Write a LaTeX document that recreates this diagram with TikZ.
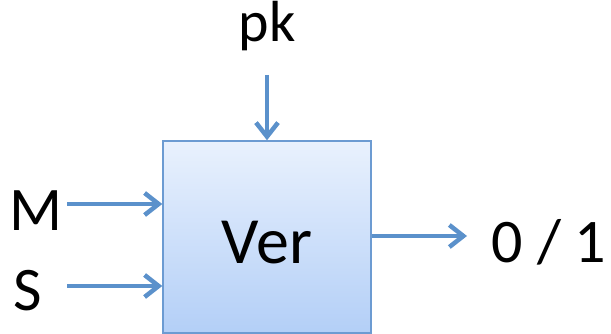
\documentclass[tikz,border=0pt]{standalone}
\usepackage{fontspec}
\setmainfont{Carlito}
\usetikzlibrary{arrows.meta}
\definecolor{arrowblue}{HTML}{5B91CB}
\definecolor{boxedge}{HTML}{6C9BD2}
\definecolor{boxtop}{HTML}{E9F1FD}
\definecolor{boxbot}{HTML}{B3CFF7}
\begin{document}
\begin{tikzpicture}[x=1pt,y=-1pt,
  arr/.style={draw=arrowblue,line width=4.5pt,-{Straight Barb[length=14pt,width=22pt,line width=4.5pt]}},
  bigtext/.style={font=\fontsize{62}{68}\selectfont,inner sep=0pt,anchor=base},
  vertext/.style={font=\fontsize{66}{72}\selectfont,inner sep=0pt,anchor=base},
  pktext/.style={font=\fontsize{58}{64}\selectfont,inner sep=0pt,anchor=base},
  verbox/.style={draw=boxedge,line width=1.5pt,top color=boxtop,bottom color=boxbot,minimum width=208pt,minimum height=192pt,inner sep=0pt}]
\useasboundingbox (0,0) rectangle (611,334);
\node[verbox] (box) at (267,237) {};
\node[vertext] (ver) at (267,263) {Ver};
\node[bigtext] (m) at (36,231) {M};
\node[bigtext] (s) at (28,310) {S};
\node[bigtext] (out) at (549,262) {0 / 1};
\node[pktext] (pk) at (267,42) {pk};
\coordinate (pkstart) at (267,75);
\coordinate (mstart) at (67,204);
\coordinate (sstart) at (67,286);
\coordinate (outend) at (467,236);
\draw[arr] (pkstart) -- (box.north -| pkstart);
\draw[arr] (mstart) -- (box.west |- mstart);
\draw[arr] (sstart) -- (box.west |- sstart);
\draw[arr] (box.east |- outend) -- (outend);
\end{tikzpicture}
\end{document}
